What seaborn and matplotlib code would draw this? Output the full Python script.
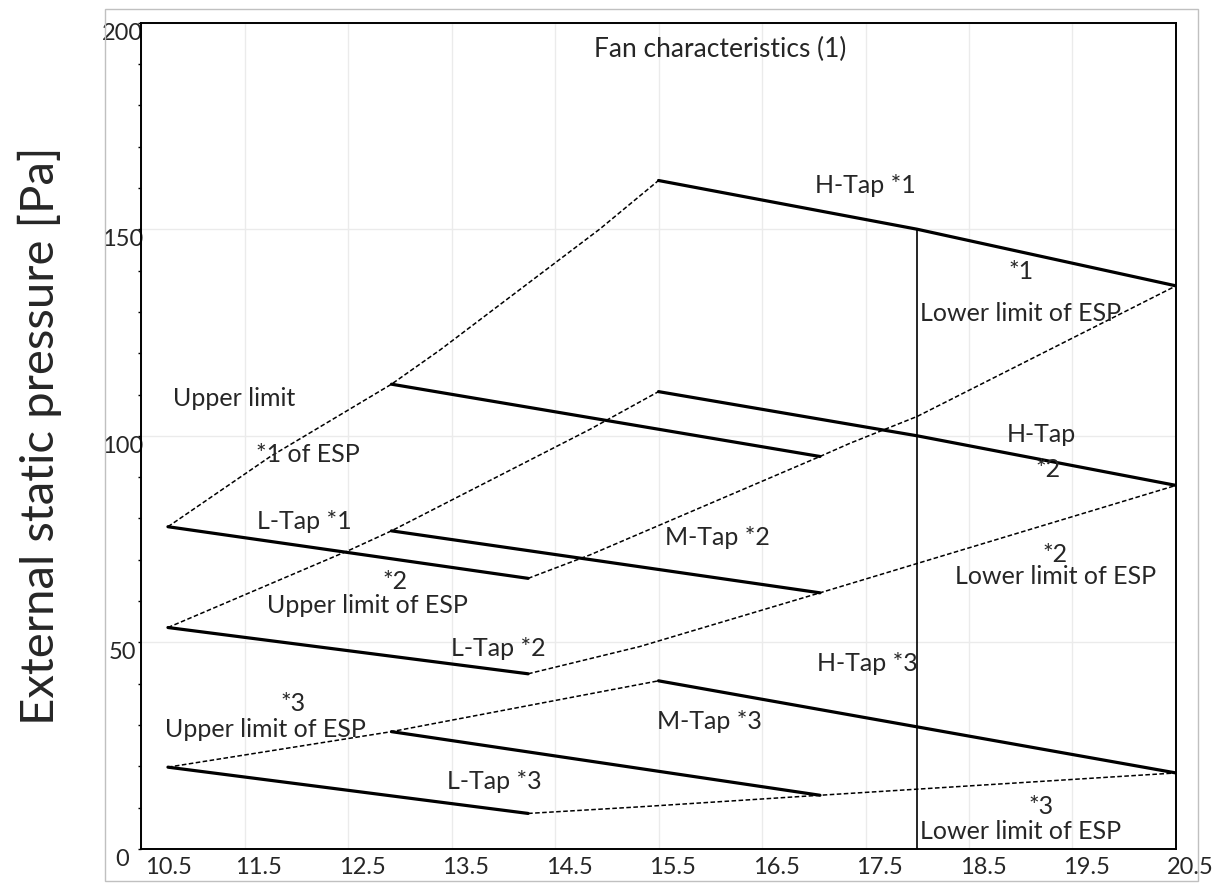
import matplotlib
matplotlib.use('Agg')
import matplotlib.pyplot as plt
import matplotlib.transforms as mtransforms
from matplotlib.patches import Rectangle
from matplotlib.ticker import MultipleLocator, FixedLocator
import seaborn as sns

# Fan curves per tap (solid lines), air flow vs ESP
h_tap1_x = [15.5, 18.0, 20.5]
h_tap1_y = [161.8, 150.0, 136.3]
m_tap1_x = [12.92, 17.06]
m_tap1_y = [112.5, 95.0]
l_tap1_x = [10.76, 14.24]
l_tap1_y = [78.0, 65.5]

h_tap2_x = [15.5, 18.0, 20.5]
h_tap2_y = [110.7, 100.0, 88.0]
m_tap2_x = [12.92, 17.06]
m_tap2_y = [77.0, 62.0]
l_tap2_x = [10.76, 14.24]
l_tap2_y = [53.6, 42.4]

h_tap3_x = [15.5, 20.5]
h_tap3_y = [40.7, 18.4]
m_tap3_x = [12.92, 17.06]
m_tap3_y = [28.4, 13.0]
l_tap3_x = [10.76, 14.24]
l_tap3_y = [19.8, 8.6]

# ESP limit curves (dotted lines)
upper1_x = [10.76, 11.75, 12.92, 13.39, 14.93, 15.5]
upper1_y = [78.0, 95.0, 112.5, 120.8, 150.0, 161.8]
lower1_x = [14.24, 14.84, 17.06, 17.35, 18.0, 20.5]
lower1_y = [65.5, 71.2, 95.0, 98.2, 104.7, 136.3]
upper2_x = [10.76, 12.52, 12.92, 14.84, 15.5]
upper2_y = [53.6, 72.4, 77.0, 101.6, 110.7]
lower2_x = [14.24, 15.32, 17.06, 20.5]
lower2_y = [42.4, 49.0, 62.0, 88.0]
upper3_x = [10.76, 12.92, 15.5]
upper3_y = [19.8, 28.4, 40.7]
lower3_x = [14.24, 15.32, 17.06, 20.5]
lower3_y = [8.6, 10.2, 13.0, 18.4]

# rated air flow marker line
rated_x = [18.0, 18.0]
rated_y = [0.0, 150.0]

x_ticks = [10.5, 11.5, 12.5, 13.5, 14.5, 15.5, 16.5, 17.5, 18.5, 19.5, 20.5]
y_ticks = [0, 50, 100, 150, 200]

# annotations inside the plot
note_text = ["H-Tap *1", "*1", "Upper limit", "*1 of ESP", "L-Tap *1",
             "*2", "Upper limit of ESP", "L-Tap *2", "*3", "Upper limit of ESP",
             "L-Tap *3", "M-Tap *2", "H-Tap", "*2", "*2", "H-Tap *3",
             "M-Tap *3", "*3"]
note_x = [17.5, 19.0, 11.4, 12.11, 12.08,
          12.95, 12.69, 13.95, 11.97, 11.70,
          13.91, 16.07, 19.2, 19.26, 19.33, 17.52,
          15.99, 19.2]
note_y = [160.5, 139.7, 109.1, 95.4, 79.2,
          64.8, 59.0, 48.6, 35.3, 28.8,
          16.3, 75.5, 100.2, 91.8, 71.2, 45.0,
          30.8, 10.3]
# "Lower limit of ESP" labels, left aligned
lower_note_x = [18.03, 18.36, 18.03]
lower_note_y = [129.7, 65.9, 4.3]

sns.set_theme(style='white')
plt.rcParams['font.family'] = ['Lato', 'DejaVu Sans']

fig = plt.figure(figsize=(12.17, 8.86), dpi=100)
ax = fig.add_axes([0.1159, 0.0418, 0.8504, 0.9326])

fig.patches.append(Rectangle((0.0863, 0.006), 0.898, 0.984, transform=fig.transFigure,
                             fill=False, edgecolor='#c0c0c0', lw=1.0))

solid = [(h_tap1_x, h_tap1_y), (m_tap1_x, m_tap1_y), (l_tap1_x, l_tap1_y),
         (h_tap2_x, h_tap2_y), (m_tap2_x, m_tap2_y), (l_tap2_x, l_tap2_y),
         (h_tap3_x, h_tap3_y), (m_tap3_x, m_tap3_y), (l_tap3_x, l_tap3_y)]
dotted = [(upper1_x, upper1_y), (lower1_x, lower1_y), (upper2_x, upper2_y),
          (lower2_x, lower2_y), (upper3_x, upper3_y), (lower3_x, lower3_y)]

for xs, ys in dotted:
    sns.lineplot(x=xs, y=ys, ax=ax, color='black', lw=1.1,
                 linestyle=(0, (3, 1.6)), estimator=None, sort=False)
for xs, ys in solid:
    sns.lineplot(x=xs, y=ys, ax=ax, color='black', lw=2.3,
                 estimator=None, sort=False)
sns.lineplot(x=rated_x, y=rated_y, ax=ax, color='black', lw=1.2,
             estimator=None, sort=False)

ax.set_xlim(10.5, 20.5)
ax.set_ylim(0, 200)
ax.xaxis.set_major_locator(FixedLocator(x_ticks))
ax.set_xticklabels([f'{v:.1f}' for v in x_ticks])
ax.yaxis.set_major_locator(FixedLocator(y_ticks))
ax.yaxis.set_minor_locator(MultipleLocator(10))

ax.grid(True, which='major', color='#ebebeb', lw=1.0)
ax.set_axisbelow(True)
for s in ax.spines.values():
    s.set_color('black')
    s.set_linewidth(1.4)

ax.tick_params(axis='x', which='major', direction='out', length=3, width=1.2,
               color='black', labelsize=17, pad=3)
ax.tick_params(axis='y', which='both', direction='out', length=2.5, width=1.0,
               color='black', left=True, labelsize=17, pad=11)
for i, lab in enumerate(ax.get_xticklabels()):
    dx = 27 if i == 0 else 14
    lab.set_transform(lab.get_transform() + mtransforms.ScaledTranslation(dx / 100, 0, fig.dpi_scale_trans))
for lab in ax.get_yticklabels():
    lab.set_ha('center')
    lab.set_va('top')

ax.set_xlabel('')
ax.set_ylabel('External static pressure [Pa]', fontsize=34, va='center')
ax.yaxis.set_label_coords(-0.0976, 0.5)

ax.text(16.1, 193.5, 'Fan characteristics (1)', fontsize=19, ha='center', va='center')
for t, x, y in zip(note_text, note_x, note_y):
    ax.text(x, y, t, fontsize=18, ha='center', va='center')
for x, y in zip(lower_note_x, lower_note_y):
    ax.text(x, y, 'Lower limit of ESP', fontsize=18, ha='left', va='center')

fig.savefig('out.png', dpi=100)
